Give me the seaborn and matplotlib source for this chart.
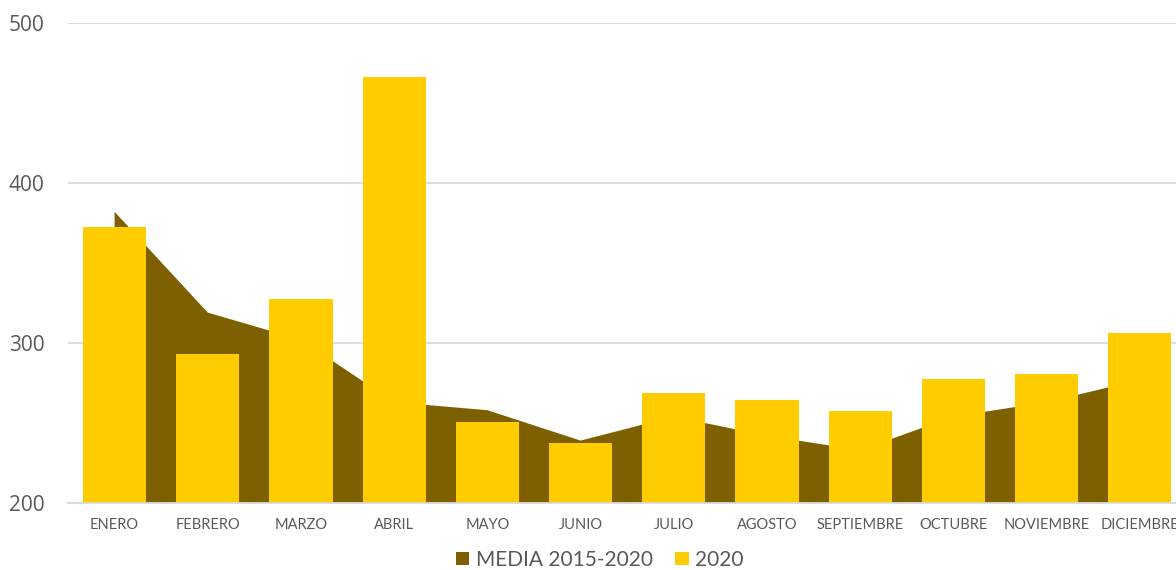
import matplotlib
matplotlib.use("Agg")
import matplotlib.pyplot as plt
from matplotlib.patches import Patch
from matplotlib.ticker import FixedLocator
import numpy as np
import pandas as pd
import seaborn as sns

meses = ["ENERO", "FEBRERO", "MARZO", "ABRIL", "MAYO", "JUNIO", "JULIO",
         "AGOSTO", "SEPTIEMBRE", "OCTUBRE", "NOVIEMBRE", "DICIEMBRE"]
media_2015_2020 = [382, 319, 302, 263, 258, 239, 254, 242, 233, 254, 263, 277]
valores_2020 = [372.5, 293, 327.5, 466, 250.5, 237.5, 268.5, 264.5, 257.5, 277.5, 280.5, 306.5]
y_ticks = [200, 300, 400, 500]

COL_MEDIA = "#7F6000"
COL_2020 = "#FFCC00"
TXT = "#595959"
GRID = "#D9D9D9"

sns.set_theme(style="white")
plt.rcParams["font.family"] = ["Lato", "DejaVu Sans"]

df = pd.DataFrame({"mes": meses, "media": media_2015_2020, "v2020": valores_2020})

fig = plt.figure(figsize=(11.76, 5.70), dpi=100)
ax = fig.add_axes([68 / 1176, 67 / 570, 1118.4 / 1176, 480 / 570])

x = np.arange(len(meses))
ax.fill_between(x, 0, df["media"], color=COL_MEDIA, linewidth=0, zorder=1)
sns.barplot(data=df, x="mes", y="v2020", color=COL_2020, width=0.676,
            saturation=1, ax=ax, zorder=2)
for p in ax.patches:
    p.set_edgecolor("none")

ax.set_xlim(-0.5, len(meses) - 0.5)
ax.set_ylim(200, 500)
ax.set_yticks(y_ticks)
ax.set_yticklabels([str(v) for v in y_ticks])
ax.set_xlabel("")
ax.set_ylabel("")

ax.grid(axis="y", color=GRID, linewidth=1.3, zorder=0)
ax.set_axisbelow(True)
for s in ["top", "right", "left"]:
    ax.spines[s].set_visible(False)
ax.spines["bottom"].set_color(GRID)
ax.spines["bottom"].set_linewidth(1.3)
ax.spines["bottom"].set_zorder(3)

ax.tick_params(axis="y", length=0, pad=17, labelsize=15, labelcolor=TXT)
for t in ax.get_yticklabels():
    t.set_family(["Open Sans", "DejaVu Sans"])
ax.tick_params(axis="x", which="major", length=0, pad=11, labelsize=10.5, labelcolor=TXT)
ax.xaxis.set_minor_locator(FixedLocator(np.arange(-0.5, len(meses), 1.0)))
ax.tick_params(axis="x", which="minor", length=4, width=1.3, color=GRID, direction="out")

handles = [Patch(facecolor=COL_MEDIA, edgecolor="none", label="MEDIA 2015-2020"),
           Patch(facecolor=COL_2020, edgecolor="none", label="2020")]
leg = fig.legend(handles=handles, loc="center", bbox_to_anchor=(0.51, 1 - 560 / 570),
                 ncol=2, frameon=False, fontsize=15, handlelength=0.63, handleheight=0.63,
                 handletextpad=0.3, columnspacing=1.1, borderaxespad=0)
for t in leg.get_texts():
    t.set_color(TXT)

fig.savefig("out.png", dpi=100)
